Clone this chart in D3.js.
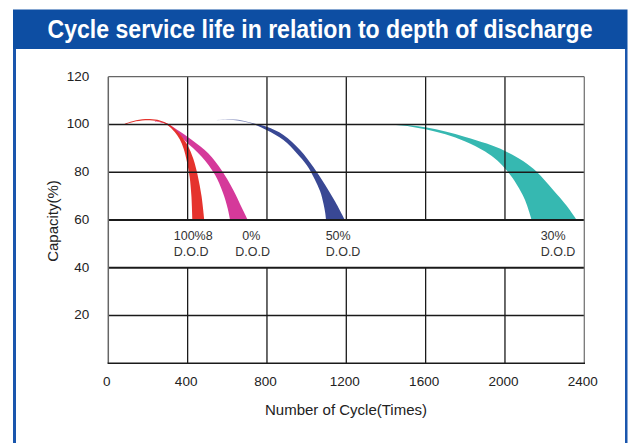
<!DOCTYPE html>
<html><head><meta charset="utf-8">
<script src="https://cdn.jsdelivr.net/npm/d3@7"></script>
<style>html,body{margin:0;padding:0;background:#fff;}svg{display:block;}</style>
</head><body>
<svg id="c" width="630" height="443"></svg>
<script>
const title = "Cycle service life in relation to depth of discharge";
const xTicks = [0, 400, 800, 1200, 1600, 2000, 2400];
const yTicks = [20, 40, 60, 80, 100, 120];
const xTitle = "Number of Cycle(Times)";
const yTitle = "Capacity(%)";

// band edges [cycles, capacity%]
const dod100Upper = [[80,100.2],[140,101.8],[210,102.3],[260,101.7],[303,100.2],[340,97.8],[370,95],[400,91.3],[429,85.5],[451,78.5],[470,70],[484,60]];
const dod100Lower = [[80,99.8],[140,101.3],[210,101.8],[260,101.1],[303,99.5],[335,96.8],[360,93.8],[380,89.8],[396,84.5],[410,78.1],[419,70],[424,60]];
const dod80Upper = [[235,101.4],[290,100.6],[345,97.9],[420,93.6],[505,87.8],[572,80.7],[630,72.6],[675,64.8],[703,60]];
const dod80Lower = [[235,101.2],[290,100.2],[340,97.2],[387,93.2],[471,86.5],[538,78.9],[578,71.4],[602,64.8],[614,60]];
const dod50Upper = [[547,101.9],[613,102.3],[680,101.6],[740,100.3],[799,99.0],[883,95.6],[967,89.3],[1033,82.3],[1093,74.8],[1145,67.5],[1193,60]];
const dod50Lower = [[547,101.7],[613,102.0],[680,101.2],[740,99.9],[800,97.6],[883,93.5],[950,88],[1000,83],[1040,77.2],[1068,72],[1085,66.8],[1094,62.8],[1098,60]];
const dod30Upper = [[1429,100.1],[1520,99.7],[1605,98.7],[1700,97.1],[1800,94.8],[1908,92.0],[2000,88.9],[2093,84.6],[2160,80.2],[2244,72.5],[2311,66],[2362,60]];
const dod30Lower = [[1429,100.0],[1521,99.2],[1605,97.9],[1700,95.9],[1800,92.9],[1900,88.7],[1960,85.0],[2010,80.6],[2060,74.8],[2100,68.6],[2135,60]];

const bands = [
  {upper: dod80Upper, lower: dod80Lower, color: "#d5399a"},
  {upper: dod100Upper, lower: dod100Lower, color: "#e5332d"},
  {upper: dod50Upper, lower: dod50Lower, color: "#394894", grad: true},
  {upper: dod30Upper, lower: dod30Lower, color: "#36b8b1"}
];
const labels = [
  {x: 330, l1: "100%8", l2: "D.O.D"},
  {x: 640, l1: "0%", l2: "D.O.D", dx1: 7},
  {x: 1096, l1: "50%", l2: "D.O.D"},
  {x: 2180, l1: "30%", l2: "D.O.D"}
];

const svg = d3.select("#c");
const x = d3.scaleLinear().domain([0, 2400]).range([108.3, 584.3]);
const y = d3.scaleLinear().domain([0, 120]).range([363.3, 76.7]);
const font = "'Liberation Sans', Arial, sans-serif";

// frame: title bar and blue borders
svg.append("rect").attr("x", 13).attr("y", 9.5).attr("width", 614.5).attr("height", 39.5).attr("fill", "#0d4ea3");
svg.append("rect").attr("x", 13).attr("y", 49).attr("width", 3).attr("height", 400).attr("fill", "#1a56ad");
svg.append("rect").attr("x", 625).attr("y", 49).attr("width", 2.5).attr("height", 400).attr("fill", "#1a56ad");
const tt = svg.append("text").attr("text-anchor", "middle")
  .attr("font-family", font).attr("font-weight", "bold").attr("font-size", 26)
  .attr("fill", "#fff").text(title);
const tw = tt.node().getComputedTextLength();
tt.attr("transform", `translate(320,38) scale(${545 / tw},1)`);

// curves
const defs = svg.append("defs");
const gr = defs.append("linearGradient").attr("id", "bg").attr("gradientUnits", "userSpaceOnUse")
  .attr("x1", x(540)).attr("x2", x(760)).attr("y1", 0).attr("y2", 0);
gr.append("stop").attr("offset", 0).attr("stop-color", "#394894").attr("stop-opacity", 0.1);
gr.append("stop").attr("offset", 1).attr("stop-color", "#394894").attr("stop-opacity", 1);

const line = d3.line().x(d => x(d[0])).y(d => y(d[1])).curve(d3.curveCatmullRom.alpha(0.5));
bands.forEach(b => {
  const p1 = line(b.upper);
  const p2 = line(b.lower.slice().reverse());
  svg.append("path").attr("d", p1 + "L" + p2.slice(1) + "Z")
    .attr("fill", b.grad ? "url(#bg)" : b.color).attr("stroke", "none");
});

// grid
const g = svg.append("g");
xTicks.slice(1, -1).forEach(v => {
  g.append("line").attr("x1", x(v)).attr("x2", x(v)).attr("y1", y(120)).attr("y2", y(60))
    .attr("stroke", "#1a1a1a").attr("stroke-width", 1.3);
  g.append("line").attr("x1", x(v)).attr("x2", x(v)).attr("y1", y(40)).attr("y2", y(0))
    .attr("stroke", "#1a1a1a").attr("stroke-width", 1.3);
});
[20, 40, 60, 80, 100].forEach(v => {
  g.append("line").attr("x1", x(0)).attr("x2", x(2400)).attr("y1", y(v)).attr("y2", y(v))
    .attr("stroke", "#1a1a1a").attr("stroke-width", (v === 40 || v === 60) ? 2 : 1.4);
});
// borders
g.append("line").attr("x1", x(0)).attr("x2", x(2400)).attr("y1", y(120)).attr("y2", y(120)).attr("stroke", "#666").attr("stroke-width", 1.3);
g.append("line").attr("x1", x(0)).attr("x2", x(0)).attr("y1", y(120)).attr("y2", y(0)).attr("stroke", "#666").attr("stroke-width", 1.5);
g.append("line").attr("x1", x(2400)).attr("x2", x(2400)).attr("y1", y(120)).attr("y2", y(0)).attr("stroke", "#777").attr("stroke-width", 1.3);
g.append("line").attr("x1", x(0) - 0.7).attr("x2", x(2400) + 0.7).attr("y1", y(0)).attr("y2", y(0)).attr("stroke", "#1a1a1a").attr("stroke-width", 1.5);

// axes
const xa = svg.append("g").attr("transform", `translate(0,${y(0) + 10})`)
  .call(d3.axisBottom(x).tickValues(xTicks).tickSize(0).tickFormat(d3.format("d")));
xa.select(".domain").remove();
xa.selectAll("text").attr("font-family", font).attr("font-size", 13.5).attr("fill", "#222").attr("dx", -2);
const ya = svg.append("g").attr("transform", `translate(${x(0) - 16},0)`)
  .call(d3.axisLeft(y).tickValues(yTicks).tickSize(0));
ya.select(".domain").remove();
ya.selectAll("text").attr("font-family", font).attr("font-size", 13.5).attr("fill", "#222").attr("dy", "0.25em");

svg.append("text").attr("x", 346).attr("y", 415).attr("text-anchor", "middle")
  .attr("font-family", font).attr("font-size", 15).attr("fill", "#222").text(xTitle);
svg.append("text").attr("transform", `translate(58,221) rotate(-90)`).attr("text-anchor", "middle")
  .attr("font-family", font).attr("font-size", 15).attr("fill", "#222").text(yTitle);

// labels
labels.forEach(l => {
  svg.append("text").attr("x", x(l.x) + (l.dx1 || 0)).attr("y", y(60) + 20)
    .attr("font-family", font).attr("font-size", 12.5).attr("fill", "#333").text(l.l1);
  svg.append("text").attr("x", x(l.x)).attr("y", y(60) + 35.5)
    .attr("font-family", font).attr("font-size", 12.5).attr("fill", "#333").text(l.l2);
});
</script>
</body></html>
